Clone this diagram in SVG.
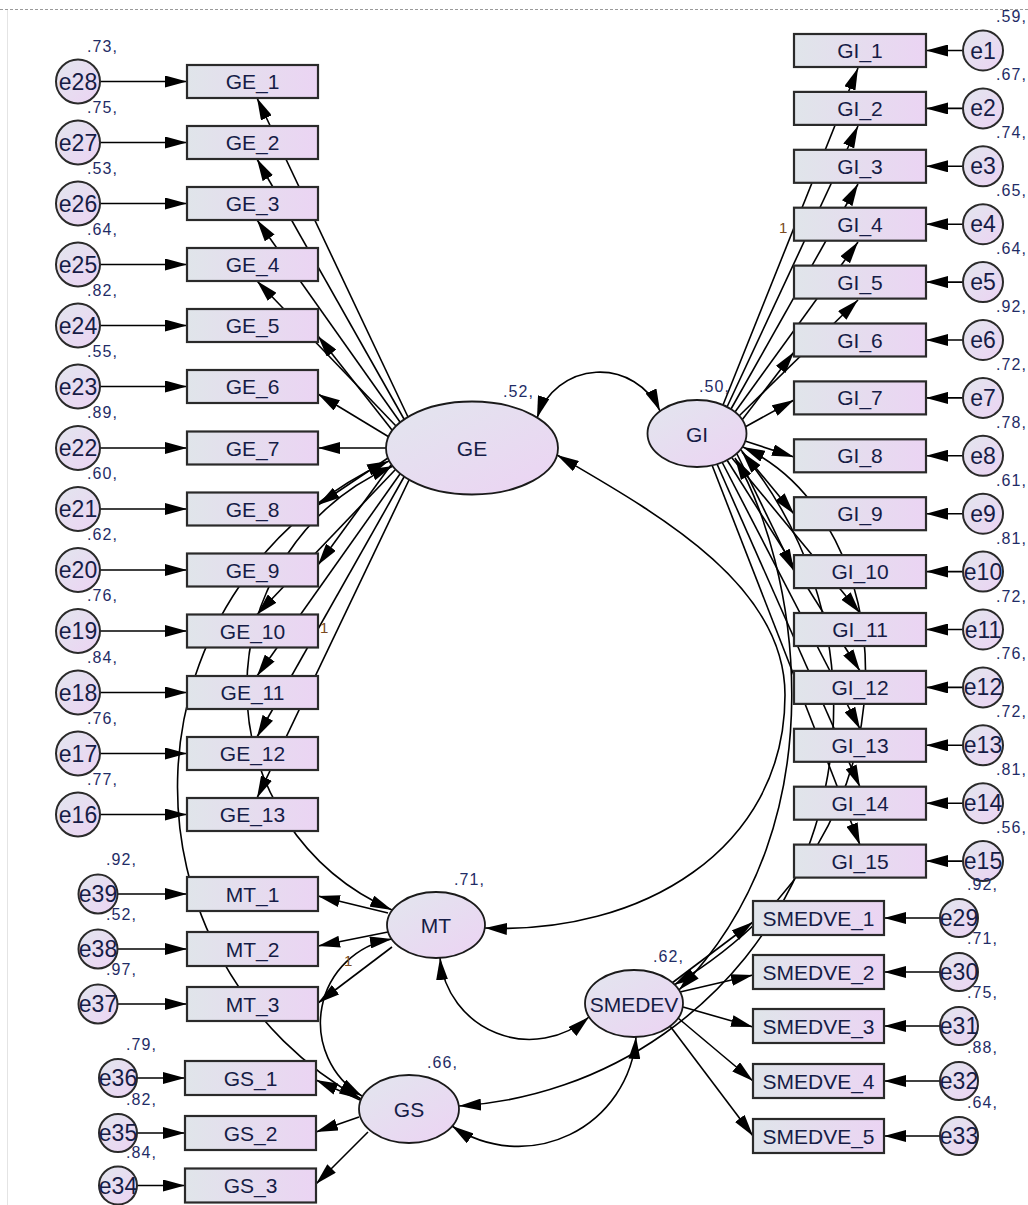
<svg xmlns="http://www.w3.org/2000/svg" width="1028" height="1205" viewBox="0 0 1028 1205">
  <defs>
    <linearGradient id="gBox" x1="0" y1="0" x2="1" y2="0">
      <stop offset="0" stop-color="#e0e5ea"/>
      <stop offset="1" stop-color="#ebd4f3"/>
    </linearGradient>
    <linearGradient id="gOval" x1="0" y1="0" x2="1" y2="1">
      <stop offset="0" stop-color="#e2e6ee"/>
      <stop offset="1" stop-color="#ecd3f3"/>
    </linearGradient>
    <marker id="ah" viewBox="0 0 22 12" refX="22" refY="6" markerWidth="22" markerHeight="12" markerUnits="userSpaceOnUse" orient="auto-start-reverse">
      <path d="M0,0 L22,6 L0,12 z" fill="#000"/>
    </marker>
    <style>
      .box { fill: url(#gBox); stroke: #2a2a2a; stroke-width: 2.2; }
      .lat { fill: url(#gOval); stroke: #1a1a1a; stroke-width: 1.8; }
      .err { fill: url(#gOval); stroke: #2a2a2a; stroke-width: 2; }
      .lbl { font-family: "Liberation Sans", Arial, sans-serif; font-size: 21px; fill: #161c46; text-anchor: middle; }
      .elbl { font-family: "Liberation Sans", Arial, sans-serif; font-size: 23px; fill: #161c46; text-anchor: middle; }
      .num { font-family: "Liberation Sans", Arial, sans-serif; font-size: 16px; fill: #1f2c66; letter-spacing: 1.1px; }
      .one { font-family: "Liberation Sans", Arial, sans-serif; font-size: 15px; fill: #7a4a20; }
      .reg { fill: none; stroke: #000; stroke-width: 1.6; marker-end: url(#ah); }
      .cov { fill: none; stroke: #000; stroke-width: 1.6; marker-start: url(#ah); marker-end: url(#ah); }
    </style>
  </defs>

  <rect width="1028" height="1205" fill="#fff"/>
  <line x1="0" y1="9.5" x2="1028" y2="9.5" stroke="#9a9a9a" stroke-width="1" stroke-dasharray="3,2"/>
  <line x1="7.5" y1="10" x2="7.5" y2="1205" stroke="#e4e4e4" stroke-width="1"/>

  <!-- connectors -->
  <g id="connectors">
    <!-- error terms into GE indicators -->
    <path class="reg" d="M100,81.5 H187"/>
    <path class="reg" d="M100,142.5 H187"/>
    <path class="reg" d="M100,203.5 H187"/>
    <path class="reg" d="M100,264.5 H187"/>
    <path class="reg" d="M100,325.5 H187"/>
    <path class="reg" d="M100,386.5 H187"/>
    <path class="reg" d="M100,448 H187"/>
    <path class="reg" d="M100,509 H187"/>
    <path class="reg" d="M100,570 H187"/>
    <path class="reg" d="M100,631 H187"/>
    <path class="reg" d="M100,692.5 H187"/>
    <path class="reg" d="M100,753.5 H187"/>
    <path class="reg" d="M100,814.5 H187"/>
    <!-- error terms into GI indicators -->
    <path class="reg" d="M963,50.5 H926"/>
    <path class="reg" d="M963,108.4 H926"/>
    <path class="reg" d="M963,166.3 H926"/>
    <path class="reg" d="M963,224.2 H926"/>
    <path class="reg" d="M963,282.1 H926"/>
    <path class="reg" d="M963,340 H926"/>
    <path class="reg" d="M963,397.9 H926"/>
    <path class="reg" d="M963,455.8 H926"/>
    <path class="reg" d="M963,513.7 H926"/>
    <path class="reg" d="M963,571.6 H926"/>
    <path class="reg" d="M963,629.5 H926"/>
    <path class="reg" d="M963,687.4 H926"/>
    <path class="reg" d="M963,745.3 H926"/>
    <path class="reg" d="M963,803.2 H926"/>
    <path class="reg" d="M963,861.1 H926"/>
    <!-- error terms into MT, GS, SMEDVE indicators -->
    <path class="reg" d="M117.5,894 H187"/>
    <path class="reg" d="M117.5,949 H187"/>
    <path class="reg" d="M117.5,1004 H187"/>
    <path class="reg" d="M137,1078 H185"/>
    <path class="reg" d="M137,1133 H185"/>
    <path class="reg" d="M137,1185.5 H185"/>
    <path class="reg" d="M940,918 H884"/>
    <path class="reg" d="M940,972 H884"/>
    <path class="reg" d="M940,1026 H884"/>
    <path class="reg" d="M940,1081 H884"/>
    <path class="reg" d="M940,1136 H884"/>

    <!-- GE loadings -->
    <path class="reg" d="M408,417 L257,98"/>
    <path class="reg" d="M404,419 L257,159"/>
    <path class="reg" d="M400,422 L257,220"/>
    <path class="reg" d="M396,426 L257,281"/>
    <path class="reg" d="M392,430 L318,336"/>
    <path class="reg" d="M389,437 L318,394"/>
    <path class="reg" d="M386,448 L318,448"/>
    <path class="reg" d="M388,458 L318,505"/>
    <path class="reg" d="M391,465 L318,565"/>
    <path class="reg" d="M395,470 L257,614.5"/>
    <path class="reg" d="M400,474 L257,676"/>
    <path class="reg" d="M404,477 L257,737"/>
    <path class="reg" d="M409,480 L257,798"/>

    <!-- GI loadings -->
    <path class="reg" d="M723,405 L858,68"/>
    <path class="reg" d="M727,407 L858,126"/>
    <path class="reg" d="M731,409 L858,184"/>
    <path class="reg" d="M735,412 L858,242"/>
    <path class="reg" d="M739,416 L858,300"/>
    <path class="reg" d="M742,420 L794,352"/>
    <path class="reg" d="M745,427 L794,400"/>
    <path class="reg" d="M745,441 L794,457"/>
    <path class="reg" d="M741,450 L794,514"/>
    <path class="reg" d="M737,454 L794,571"/>
    <path class="reg" d="M732,458 L860,613"/>
    <path class="reg" d="M727,460 L860,671"/>
    <path class="reg" d="M722,462 L860,729"/>
    <path class="reg" d="M717,464 L860,787"/>
    <path class="reg" d="M712,465 L860,845"/>

    <!-- MT loadings -->
    <path class="reg" d="M388,913 L318,896"/>
    <path class="reg" d="M388,932 L318,946"/>
    <path class="reg" d="M392,947 L318,1003"/>
    <!-- GS loadings -->
    <path class="reg" d="M360,1100 L316,1080"/>
    <path class="reg" d="M359,1117 L316,1132"/>
    <path class="reg" d="M368,1132 L316,1184"/>
    <!-- SMEDEV loadings -->
    <path class="reg" d="M672,983 L753,922"/>
    <path class="reg" d="M680,992 L753,975"/>
    <path class="reg" d="M683,1007 L753,1027"/>
    <path class="reg" d="M678,1018 L753,1081"/>
    <path class="reg" d="M670,1026 L753,1136"/>

    <!-- covariances among latent factors -->
    <path class="cov" d="M537,418 A66 66 0 0 1 660,411"/>
    <path class="cov" d="M389,461 A357 357 0 0 0 361,1099"/>
    <path class="cov" d="M393,466 A242 242 0 0 0 392,910"/>
    <path class="cov" d="M557,455 C660,515 785,585 785,695 C785,850 640,935 485,928"/>
    <path class="cov" d="M392,939 A85 85 0 0 0 362,1096"/>
    <path class="cov" d="M440,958 A90 90 0 0 0 589,1017"/>
    <path class="cov" d="M452,1126 A118 118 0 0 0 636,1037"/>
    <path class="cov" d="M459,1106 A400 400 0 0 0 742,452"/>
    <path class="cov" d="M743,447 C900,520 935,830 674,985"/>
    <path class="cov" d="M735,458 C795,560 845,820 679,990"/>
  </g>

  <!-- GE indicators -->
  <g id="GE_1"><rect class="box" x="187" y="65" width="131" height="33"/><text class="lbl" x="252.5" y="89">GE_1</text></g>
  <g id="GE_2"><rect class="box" x="187" y="126" width="131" height="33"/><text class="lbl" x="252.5" y="150">GE_2</text></g>
  <g id="GE_3"><rect class="box" x="187" y="187" width="131" height="33"/><text class="lbl" x="252.5" y="211">GE_3</text></g>
  <g id="GE_4"><rect class="box" x="187" y="248" width="131" height="33"/><text class="lbl" x="252.5" y="272">GE_4</text></g>
  <g id="GE_5"><rect class="box" x="187" y="309" width="131" height="33"/><text class="lbl" x="252.5" y="333">GE_5</text></g>
  <g id="GE_6"><rect class="box" x="187" y="370" width="131" height="33"/><text class="lbl" x="252.5" y="394">GE_6</text></g>
  <g id="GE_7"><rect class="box" x="187" y="431.5" width="131" height="33"/><text class="lbl" x="252.5" y="455.5">GE_7</text></g>
  <g id="GE_8"><rect class="box" x="187" y="492.5" width="131" height="33"/><text class="lbl" x="252.5" y="516.5">GE_8</text></g>
  <g id="GE_9"><rect class="box" x="187" y="553.5" width="131" height="33"/><text class="lbl" x="252.5" y="577.5">GE_9</text></g>
  <g id="GE_10"><rect class="box" x="187" y="614.5" width="131" height="33"/><text class="lbl" x="252.5" y="638.5">GE_10</text></g>
  <g id="GE_11"><rect class="box" x="187" y="676" width="131" height="33"/><text class="lbl" x="252.5" y="700">GE_11</text></g>
  <g id="GE_12"><rect class="box" x="187" y="737" width="131" height="33"/><text class="lbl" x="252.5" y="761">GE_12</text></g>
  <g id="GE_13"><rect class="box" x="187" y="798" width="131" height="33"/><text class="lbl" x="252.5" y="822">GE_13</text></g>

  <!-- GE error terms -->
  <g id="e28"><circle class="err" cx="78" cy="81.5" r="22"/><text class="elbl" x="78" y="89.5">e28</text><text class="num" x="87" y="51.5">.73,</text></g>
  <g id="e27"><circle class="err" cx="78" cy="142.5" r="22"/><text class="elbl" x="78" y="150.5">e27</text><text class="num" x="87" y="112.5">.75,</text></g>
  <g id="e26"><circle class="err" cx="78" cy="203.5" r="22"/><text class="elbl" x="78" y="211.5">e26</text><text class="num" x="87" y="173.5">.53,</text></g>
  <g id="e25"><circle class="err" cx="78" cy="264.5" r="22"/><text class="elbl" x="78" y="272.5">e25</text><text class="num" x="87" y="234.5">.64,</text></g>
  <g id="e24"><circle class="err" cx="78" cy="325.5" r="22"/><text class="elbl" x="78" y="333.5">e24</text><text class="num" x="87" y="295.5">.82,</text></g>
  <g id="e23"><circle class="err" cx="78" cy="386.5" r="22"/><text class="elbl" x="78" y="394.5">e23</text><text class="num" x="87" y="356.5">.55,</text></g>
  <g id="e22"><circle class="err" cx="78" cy="448" r="22"/><text class="elbl" x="78" y="456">e22</text><text class="num" x="87" y="418">.89,</text></g>
  <g id="e21"><circle class="err" cx="78" cy="509" r="22"/><text class="elbl" x="78" y="517">e21</text><text class="num" x="87" y="479">.60,</text></g>
  <g id="e20"><circle class="err" cx="78" cy="570" r="22"/><text class="elbl" x="78" y="578">e20</text><text class="num" x="87" y="540">.62,</text></g>
  <g id="e19"><circle class="err" cx="78" cy="631" r="22"/><text class="elbl" x="78" y="639">e19</text><text class="num" x="87" y="601">.76,</text></g>
  <g id="e18"><circle class="err" cx="78" cy="692.5" r="22"/><text class="elbl" x="78" y="700.5">e18</text><text class="num" x="87" y="662.5">.84,</text></g>
  <g id="e17"><circle class="err" cx="78" cy="753.5" r="22"/><text class="elbl" x="78" y="761.5">e17</text><text class="num" x="87" y="723.5">.76,</text></g>
  <g id="e16"><circle class="err" cx="78" cy="814.5" r="22"/><text class="elbl" x="78" y="822.5">e16</text><text class="num" x="87" y="784.5">.77,</text></g>

  <!-- GI indicators -->
  <g id="GI_1"><rect class="box" x="794" y="34" width="132" height="33"/><text class="lbl" x="860" y="58">GI_1</text></g>
  <g id="GI_2"><rect class="box" x="794" y="91.9" width="132" height="33"/><text class="lbl" x="860" y="115.9">GI_2</text></g>
  <g id="GI_3"><rect class="box" x="794" y="149.8" width="132" height="33"/><text class="lbl" x="860" y="173.8">GI_3</text></g>
  <g id="GI_4"><rect class="box" x="794" y="207.7" width="132" height="33"/><text class="lbl" x="860" y="231.7">GI_4</text></g>
  <g id="GI_5"><rect class="box" x="794" y="265.6" width="132" height="33"/><text class="lbl" x="860" y="289.6">GI_5</text></g>
  <g id="GI_6"><rect class="box" x="794" y="323.5" width="132" height="33"/><text class="lbl" x="860" y="347.5">GI_6</text></g>
  <g id="GI_7"><rect class="box" x="794" y="381.4" width="132" height="33"/><text class="lbl" x="860" y="405.4">GI_7</text></g>
  <g id="GI_8"><rect class="box" x="794" y="439.3" width="132" height="33"/><text class="lbl" x="860" y="463.3">GI_8</text></g>
  <g id="GI_9"><rect class="box" x="794" y="497.2" width="132" height="33"/><text class="lbl" x="860" y="521.2">GI_9</text></g>
  <g id="GI_10"><rect class="box" x="794" y="555.1" width="132" height="33"/><text class="lbl" x="860" y="579.1">GI_10</text></g>
  <g id="GI_11"><rect class="box" x="794" y="613" width="132" height="33"/><text class="lbl" x="860" y="637">GI_11</text></g>
  <g id="GI_12"><rect class="box" x="794" y="670.9" width="132" height="33"/><text class="lbl" x="860" y="694.9">GI_12</text></g>
  <g id="GI_13"><rect class="box" x="794" y="728.8" width="132" height="33"/><text class="lbl" x="860" y="752.8">GI_13</text></g>
  <g id="GI_14"><rect class="box" x="794" y="786.7" width="132" height="33"/><text class="lbl" x="860" y="810.7">GI_14</text></g>
  <g id="GI_15"><rect class="box" x="794" y="844.6" width="132" height="33"/><text class="lbl" x="860" y="868.6">GI_15</text></g>

  <!-- GI error terms -->
  <g id="e1"><circle class="err" cx="983" cy="50.5" r="20"/><text class="elbl" x="983" y="58.5">e1</text><text class="num" x="996" y="21.5">.59,</text></g>
  <g id="e2"><circle class="err" cx="983" cy="108.4" r="20"/><text class="elbl" x="983" y="116.4">e2</text><text class="num" x="996" y="80.4">.67,</text></g>
  <g id="e3"><circle class="err" cx="983" cy="166.3" r="20"/><text class="elbl" x="983" y="174.3">e3</text><text class="num" x="996" y="138.3">.74,</text></g>
  <g id="e4"><circle class="err" cx="983" cy="224.2" r="20"/><text class="elbl" x="983" y="232.2">e4</text><text class="num" x="996" y="196.2">.65,</text></g>
  <g id="e5"><circle class="err" cx="983" cy="282.1" r="20"/><text class="elbl" x="983" y="290.1">e5</text><text class="num" x="996" y="254.1">.64,</text></g>
  <g id="e6"><circle class="err" cx="983" cy="340" r="20"/><text class="elbl" x="983" y="348">e6</text><text class="num" x="996" y="312">.92,</text></g>
  <g id="e7"><circle class="err" cx="983" cy="397.9" r="20"/><text class="elbl" x="983" y="405.9">e7</text><text class="num" x="996" y="369.9">.72,</text></g>
  <g id="e8"><circle class="err" cx="983" cy="455.8" r="20"/><text class="elbl" x="983" y="463.8">e8</text><text class="num" x="996" y="427.8">.78,</text></g>
  <g id="e9"><circle class="err" cx="983" cy="513.7" r="20"/><text class="elbl" x="983" y="521.7">e9</text><text class="num" x="996" y="485.7">.61,</text></g>
  <g id="e10"><circle class="err" cx="983" cy="571.6" r="20"/><text class="elbl" x="983" y="579.6">e10</text><text class="num" x="996" y="543.6">.81,</text></g>
  <g id="e11"><circle class="err" cx="983" cy="629.5" r="20"/><text class="elbl" x="983" y="637.5">e11</text><text class="num" x="996" y="601.5">.72,</text></g>
  <g id="e12"><circle class="err" cx="983" cy="687.4" r="20"/><text class="elbl" x="983" y="695.4">e12</text><text class="num" x="996" y="659.4">.76,</text></g>
  <g id="e13"><circle class="err" cx="983" cy="745.3" r="20"/><text class="elbl" x="983" y="753.3">e13</text><text class="num" x="996" y="717.3">.72,</text></g>
  <g id="e14"><circle class="err" cx="983" cy="803.2" r="20"/><text class="elbl" x="983" y="811.2">e14</text><text class="num" x="996" y="775.2">.81,</text></g>
  <g id="e15"><circle class="err" cx="983" cy="861.1" r="20"/><text class="elbl" x="983" y="869.1">e15</text><text class="num" x="996" y="833.1">.56,</text></g>

  <!-- MT indicators and errors -->
  <g id="MT_1"><rect class="box" x="187" y="877" width="131" height="34"/><text class="lbl" x="252.5" y="901.5">MT_1</text></g>
  <g id="MT_2"><rect class="box" x="187" y="932" width="131" height="34"/><text class="lbl" x="252.5" y="956.5">MT_2</text></g>
  <g id="MT_3"><rect class="box" x="187" y="987" width="131" height="34"/><text class="lbl" x="252.5" y="1011.5">MT_3</text></g>
  <g id="e39"><circle class="err" cx="98" cy="894" r="19.5"/><text class="elbl" x="98" y="902">e39</text><text class="num" x="106" y="865">.92,</text></g>
  <g id="e38"><circle class="err" cx="98" cy="949" r="19.5"/><text class="elbl" x="98" y="957">e38</text><text class="num" x="106" y="920">.52,</text></g>
  <g id="e37"><circle class="err" cx="98" cy="1004" r="19.5"/><text class="elbl" x="98" y="1012">e37</text><text class="num" x="106" y="975">.97,</text></g>

  <!-- GS indicators and errors -->
  <g id="GS_1"><rect class="box" x="185" y="1061" width="131" height="34"/><text class="lbl" x="250.5" y="1085.5">GS_1</text></g>
  <g id="GS_2"><rect class="box" x="185" y="1116" width="131" height="34"/><text class="lbl" x="250.5" y="1140.5">GS_2</text></g>
  <g id="GS_3"><rect class="box" x="185" y="1168.5" width="131" height="34"/><text class="lbl" x="250.5" y="1193">GS_3</text></g>
  <g id="e36"><circle class="err" cx="118" cy="1078" r="19"/><text class="elbl" x="118" y="1086">e36</text><text class="num" x="126" y="1050">.79,</text></g>
  <g id="e35"><circle class="err" cx="118" cy="1133" r="19"/><text class="elbl" x="118" y="1141">e35</text><text class="num" x="126" y="1105">.82,</text></g>
  <g id="e34"><circle class="err" cx="118" cy="1185.5" r="19"/><text class="elbl" x="118" y="1193.5">e34</text><text class="num" x="126" y="1158">.84,</text></g>

  <!-- SMEDVE indicators and errors -->
  <g id="SMEDVE_1"><rect class="box" x="753" y="901" width="131" height="34"/><text class="lbl" x="818.5" y="925.5">SMEDVE_1</text></g>
  <g id="SMEDVE_2"><rect class="box" x="753" y="955" width="131" height="34"/><text class="lbl" x="818.5" y="979.5">SMEDVE_2</text></g>
  <g id="SMEDVE_3"><rect class="box" x="753" y="1009" width="131" height="34"/><text class="lbl" x="818.5" y="1033.5">SMEDVE_3</text></g>
  <g id="SMEDVE_4"><rect class="box" x="753" y="1064" width="131" height="34"/><text class="lbl" x="818.5" y="1088.5">SMEDVE_4</text></g>
  <g id="SMEDVE_5"><rect class="box" x="753" y="1119" width="131" height="34"/><text class="lbl" x="818.5" y="1143.5">SMEDVE_5</text></g>
  <g id="e29"><circle class="err" cx="959" cy="918" r="19"/><text class="elbl" x="959" y="926">e29</text><text class="num" x="967" y="890">.92,</text></g>
  <g id="e30"><circle class="err" cx="959" cy="972" r="19"/><text class="elbl" x="959" y="980">e30</text><text class="num" x="967" y="944">.71,</text></g>
  <g id="e31"><circle class="err" cx="959" cy="1026" r="19"/><text class="elbl" x="959" y="1034">e31</text><text class="num" x="967" y="998">.75,</text></g>
  <g id="e32"><circle class="err" cx="959" cy="1081" r="19"/><text class="elbl" x="959" y="1089">e32</text><text class="num" x="967" y="1053">.88,</text></g>
  <g id="e33"><circle class="err" cx="959" cy="1136" r="19"/><text class="elbl" x="959" y="1144">e33</text><text class="num" x="967" y="1108">.64,</text></g>

  <!-- latent factors -->
  <g id="GE"><ellipse class="lat" cx="472" cy="448" rx="86" ry="46.5"/><text class="lbl" x="472" y="456">GE</text><text class="num" x="503" y="397">.52,</text></g>
  <g id="GI"><ellipse class="lat" cx="697" cy="433.5" rx="49.5" ry="33.5"/><text class="lbl" x="697" y="441.5">GI</text><text class="num" x="699" y="392">.50,</text></g>
  <g id="MT"><ellipse class="lat" cx="436" cy="925" rx="49" ry="33"/><text class="lbl" x="436" y="933">MT</text><text class="num" x="454" y="885">.71,</text></g>
  <g id="GS"><ellipse class="lat" cx="409" cy="1109" rx="50" ry="34"/><text class="lbl" x="409" y="1117">GS</text><text class="num" x="427" y="1068">.66,</text></g>
  <g id="SMEDEV"><ellipse class="lat" cx="634" cy="1003.5" rx="49" ry="33.5"/><text class="lbl" x="634" y="1011.5">SMEDEV</text><text class="num" x="653" y="962">.62,</text></g>

  <!-- fixed loadings -->
  <text class="one" x="779" y="233">1</text>
  <text class="one" x="320" y="633">1</text>
  <text class="one" x="344" y="966">1</text>
</svg>
